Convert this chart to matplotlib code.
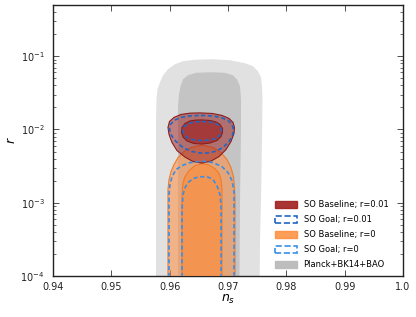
import matplotlib
matplotlib.use("Agg")
import matplotlib.pyplot as plt
from matplotlib.patches import Patch

# ---------------- data (contour boundaries) ----------------
# Planck+BK14+BAO, 2 sigma (outer) and 1 sigma (inner)
planck_outer_ns = [0.95766, 0.95766, 0.95774, 0.95791, 0.95834, 0.95886, 0.95971, 0.96091,
                   0.96229, 0.96434, 0.96726, 0.97034, 0.97291, 0.97429, 0.97514, 0.97566,
                   0.97583, 0.97591, 0.97583, 0.97566, 0.97549, 0.97531]
planck_outer_r = [1e-5, 0.0137, 0.0258, 0.0353, 0.0441, 0.0549, 0.0664, 0.0777,
                  0.0855, 0.0895, 0.0910, 0.0881, 0.0803, 0.0729, 0.0623, 0.0515,
                  0.0388, 0.0258, 0.0073, 0.0011, 0.000311, 1e-5]
planck_inner_ns = [0.96143, 0.96143, 0.96143, 0.96160, 0.96186, 0.96229, 0.96314, 0.96451,
                   0.96726, 0.96949, 0.97086, 0.97154, 0.97206, 0.97223, 0.97223, 0.97206,
                   0.97189]
planck_inner_r = [1e-5, 0.0073, 0.0207, 0.0302, 0.0388, 0.0484, 0.0549, 0.0594,
                  0.0604, 0.0594, 0.0549, 0.0484, 0.0388, 0.0258, 0.0100, 0.0011,
                  1e-5]

# SO Baseline; r=0 (2 sigma outer, 1 sigma inner)
base0_outer_ns = [0.95971, 0.95971, 0.95989, 0.96023, 0.96074, 0.96143, 0.96246, 0.96366,
                  0.96554, 0.96743, 0.96880, 0.96983, 0.97051, 0.97094, 0.97111, 0.97120,
                  0.97120]
base0_outer_r = [1e-5, 0.00151, 0.00207, 0.00266, 0.00332, 0.00413, 0.00500, 0.00567,
                 0.00614, 0.00567, 0.00484, 0.00388, 0.00302, 0.00227, 0.00160, 0.00110,
                 1e-5]
base0_inner_ns = [0.96211, 0.96211, 0.96229, 0.96263, 0.96331, 0.96434, 0.96554, 0.96674,
                  0.96777, 0.96846, 0.96880, 0.96897, 0.96897]
base0_inner_r = [1e-5, 0.00129, 0.00188, 0.00227, 0.00274, 0.00321, 0.00342, 0.00327,
                 0.00292, 0.00250, 0.00207, 0.00151, 1e-5]

# SO Goal; r=0
goal0_outer_ns = [0.95989, 0.95989, 0.96006, 0.96040, 0.96109, 0.96211, 0.96349, 0.96554,
                  0.96743, 0.96897, 0.97000, 0.97069, 0.97103, 0.97103]
goal0_outer_r = [1e-5, 0.00129, 0.00177, 0.00227, 0.00283, 0.00321, 0.00353, 0.00370,
                 0.00353, 0.00311, 0.00258, 0.00200, 0.00142, 1e-5]
goal0_inner_ns = [0.96211, 0.96211, 0.96229, 0.96263, 0.96314, 0.96400, 0.96486, 0.96571,
                  0.96657, 0.96743, 0.96811, 0.96863, 0.96880, 0.96880]
goal0_inner_r = [1e-5, 0.00080, 0.00129, 0.00160, 0.00188, 0.00213, 0.00224, 0.00227,
                 0.00224, 0.00207, 0.00171, 0.00129, 0.00094, 1e-5]

# SO Baseline; r=0.01
base1_outer_ns = [0.96520, 0.96726, 0.96897, 0.97017, 0.97086, 0.97111, 0.97103, 0.97051,
                  0.96966, 0.96846, 0.96709, 0.96554, 0.96400, 0.96263, 0.96126, 0.96040,
                  0.95989, 0.95971, 0.95997, 0.96074, 0.96194, 0.96349]
base1_outer_r = [0.01683, 0.01656, 0.01556, 0.01415, 0.01247, 0.01065, 0.00882, 0.00685,
                 0.00532, 0.00427, 0.00370, 0.00348, 0.00365, 0.00420, 0.00515, 0.00664,
                 0.00855, 0.01065, 0.01287, 0.01460, 0.01605, 0.01671]
base1_inner_ns = [0.96554, 0.96691, 0.96794, 0.96863, 0.96906, 0.96906, 0.96880, 0.96811,
                  0.96691, 0.96554, 0.96417, 0.96297, 0.96229, 0.96203, 0.96211, 0.96263,
                  0.96349, 0.96451]
base1_inner_r = [0.01349, 0.01328, 0.01267, 0.01171, 0.01032, 0.00910, 0.00802, 0.00707,
                 0.00653, 0.00633, 0.00643, 0.00696, 0.00789, 0.00910, 0.01065, 0.01208,
                 0.01307, 0.01345]

# SO Goal; r=0.01
goal1_outer_ns = [0.96537, 0.96726, 0.96880, 0.97000, 0.97069, 0.97094, 0.97077, 0.97017,
                  0.96914, 0.96777, 0.96640, 0.96520, 0.96383, 0.96229, 0.96109, 0.96031,
                  0.95997, 0.96014, 0.96074, 0.96194, 0.96349]
goal1_outer_r = [0.01556, 0.01531, 0.01460, 0.01328, 0.01171, 0.01000, 0.00828, 0.00685,
                 0.00567, 0.00500, 0.00477, 0.00477, 0.00500, 0.00567, 0.00685, 0.00828,
                 0.01000, 0.01171, 0.01328, 0.01460, 0.01531]
goal1_inner_ns = [0.96554, 0.96691, 0.96794, 0.96863, 0.96889, 0.96871, 0.96811, 0.96691,
                  0.96554, 0.96417, 0.96314, 0.96246, 0.96220, 0.96246, 0.96314, 0.96434]
goal1_inner_r = [0.01287, 0.01267, 0.01208, 0.01099, 0.00969, 0.00855, 0.00765, 0.00718,
                 0.00707, 0.00718, 0.00765, 0.00855, 0.00969, 0.01099, 0.01208, 0.01267]

labels = ["SO Baseline; r=0.01", "SO Goal; r=0.01", "SO Baseline; r=0",
          "SO Goal; r=0", "Planck+BK14+BAO"]
xticks = [0.94, 0.95, 0.96, 0.97, 0.98, 0.99, 1.0]
xticklabels = ["0.94", "0.95", "0.96", "0.97", "0.98", "0.99", "1.0"]
yticks = [1e-4, 1e-3, 1e-2, 1e-1]
yticklabels = [r"$10^{-4}$", r"$10^{-3}$", r"$10^{-2}$", r"$10^{-1}$"]

# ---------------- plotting ----------------
plt.rcParams['font.family'] = ['DejaVu Sans']
fig = plt.figure(figsize=(4.16, 3.17), dpi=100)
ax = fig.add_axes([53 / 416, 1 - 276 / 317, 350 / 416, 271 / 317])
ax.set_yscale('log')

gray_out = '#e1e1e1'
gray_in = '#c4c4c4'
orange = '#fd8d3c'
orange_edge = '#f07a2a'
red = '#a01e1e'
red_edge = '#8c1c1c'
blue_dark = '#2166c2'
blue_light = '#3a8ee6'

ax.fill(planck_outer_ns, planck_outer_r, color=gray_out, lw=0, zorder=1)
ax.fill(planck_inner_ns, planck_inner_r, color=gray_in, lw=0, zorder=2)

ax.fill(base0_outer_ns, base0_outer_r, facecolor=orange, alpha=0.55, edgecolor='none', zorder=3)
ax.fill(base0_outer_ns, base0_outer_r, facecolor='none', edgecolor=orange_edge, lw=0.8, zorder=3)
ax.fill(base0_inner_ns, base0_inner_r, facecolor=orange, alpha=0.65, edgecolor='none', zorder=3)
ax.fill(base0_inner_ns, base0_inner_r, facecolor='none', edgecolor=orange_edge, lw=0.8, zorder=3)

ax.fill(base1_outer_ns, base1_outer_r, facecolor=red, alpha=0.5, edgecolor='none', zorder=4)
ax.fill(base1_outer_ns, base1_outer_r, facecolor='none', edgecolor=red_edge, lw=0.8, zorder=4)
ax.fill(base1_inner_ns, base1_inner_r, facecolor=red, alpha=0.65, edgecolor='none', zorder=4)
ax.fill(base1_inner_ns, base1_inner_r, facecolor='none', edgecolor=red_edge, lw=0.8, zorder=4)

dash = (0, (2.5, 1.6))
for xs, ys, c in [(goal0_outer_ns, goal0_outer_r, blue_light),
                  (goal0_inner_ns, goal0_inner_r, blue_light),
                  (goal1_outer_ns, goal1_outer_r, blue_dark),
                  (goal1_inner_ns, goal1_inner_r, blue_dark)]:
    ax.fill(xs, ys, facecolor='none', edgecolor=c, lw=1.2, linestyle=dash, zorder=5)

ax.set_xlim(0.94, 1.0)
ax.set_ylim(1e-4, 0.5)
ax.set_xticks(xticks)
ax.set_xticklabels(xticklabels)
ax.set_yticks(yticks)
ax.set_yticklabels(yticklabels)
ax.tick_params(which='both', direction='in', top=True, right=True, labelsize=7, colors='#333333', labelcolor='#222222')
ax.tick_params(which='major', length=4, width=0.6)
ax.tick_params(which='minor', length=2, width=0.5)
ax.tick_params(axis='y', pad=6)
ax.tick_params(axis='x', pad=4)
for s in ax.spines.values():
    s.set_linewidth(1.0)
    s.set_color('#222222')

ax.set_xlabel(r"$n_s$", fontsize=9, labelpad=1)
ax.set_ylabel(r"$r$", fontsize=9, labelpad=2)

handles = [Patch(facecolor=red, edgecolor=red, alpha=0.9),
           Patch(facecolor='none', edgecolor=blue_dark, linestyle='--', lw=1.2),
           Patch(facecolor=orange, edgecolor=orange, alpha=0.85),
           Patch(facecolor='none', edgecolor=blue_light, linestyle='--', lw=1.2),
           Patch(facecolor='#bdbdbd', edgecolor='#bdbdbd')]
ax.legend(handles, labels, loc='lower left', bbox_to_anchor=(0.635, 0.025),
          frameon=False, fontsize=6, handlelength=2.6, handleheight=1.0,
          handletextpad=0.8, labelspacing=0.72, borderpad=0, borderaxespad=0)

fig.savefig("out.png", dpi=100)
